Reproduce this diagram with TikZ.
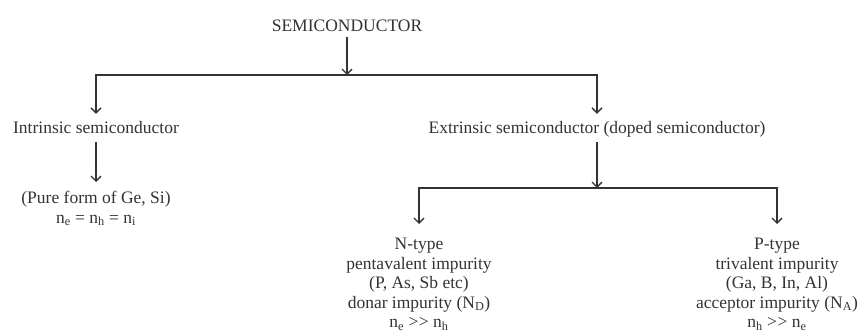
\documentclass[tikz,border=0pt]{standalone}
\usepackage{fontspec}
\setmainfont{Liberation Serif}
\usetikzlibrary{arrows.meta}
\definecolor{ink}{HTML}{333333}
\begin{document}
\begin{tikzpicture}[x=1pt,y=-1pt,
  txt/.style={text=ink, font=\fontsize{17.5}{19.5}\selectfont, inner xsep=2pt},
  one/.style={txt, text height=15pt, text depth=3pt, inner ysep=5pt, anchor=base},
  multi/.style={txt, align=center, anchor=north},
  arr/.style={draw=ink, line width=1.3pt, -{Straight Barb[length=5pt,width=10pt]}}]
\useasboundingbox[fill=white] (0,0) rectangle (858,336);
\node[one, text depth=0pt] (semi) at (347,32) {SEMICONDUCTOR};
\coordinate (b1) at (347,75);
\node[one] (intr) at (96,134) {Intrinsic semiconductor};
\node[one] (extr) at (597,134) {Extrinsic semiconductor (doped semiconductor)};
\node[multi, inner ysep=9pt] (pure) at (96,182) {(Pure form of Ge, Si)\\ n\textsubscript{e} = n\textsubscript{h} = n\textsubscript{i}};
\coordinate (b2) at (597,188);
\node[multi, inner ysep=14pt] (ntype) at (419,224) {N-type\\ pentavalent impurity\\ (P, As, Sb etc)\\ donar impurity (N\textsubscript{D})\\ n\textsubscript{e} >\kern0.5pt> n\textsubscript{h}};
\node[multi, inner ysep=14pt] (ptype) at (777,224) {P-type\\ trivalent impurity\\ (Ga, B, In, Al)\\ acceptor impurity (N\textsubscript{A})\\ n\textsubscript{h} >\kern0.5pt> n\textsubscript{e}};
\draw[arr] (semi.south) -- (b1);
\draw[arr] (b1) -| (intr.north);
\draw[arr] (b1) -| (extr.north);
\draw[arr] (intr.south) -- (pure.north);
\draw[arr] (extr.south) -- (b2);
\draw[arr] (b2) -| (ntype.north);
\draw[arr] (b2) -| (ptype.north);
\end{tikzpicture}
\end{document}
